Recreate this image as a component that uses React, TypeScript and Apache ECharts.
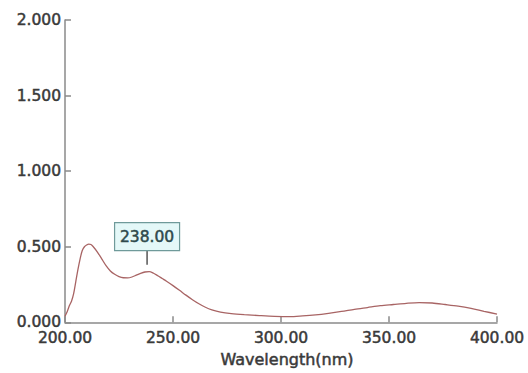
import React, { useEffect, useRef } from "react";
import * as echarts from "echarts";

const wavelengths = [
  200, 201, 202, 203, 204, 205, 206, 207, 208, 209, 210, 211, 212, 213, 215, 217, 219, 221, 223, 225,
  227, 229, 231, 233, 235, 237, 239, 241, 243, 245, 247, 250, 253, 256, 259, 262, 265, 268, 272, 277,
  283, 290, 297, 304, 310, 316, 322, 328, 334, 340, 346, 352, 358, 364, 370, 376, 382, 388, 394, 400,
];
const absorbance = [
  0.04, 0.07, 0.11, 0.14, 0.19, 0.27, 0.35, 0.42, 0.475, 0.5, 0.512, 0.518, 0.515, 0.502, 0.465, 0.42, 0.375, 0.34, 0.318, 0.303,
  0.295, 0.294, 0.3, 0.312, 0.324, 0.333, 0.336, 0.325, 0.308, 0.29, 0.272, 0.243, 0.212, 0.18, 0.15, 0.123, 0.1, 0.083, 0.068, 0.058,
  0.051, 0.045, 0.04, 0.038, 0.043, 0.05, 0.06, 0.072, 0.086, 0.098, 0.11, 0.118, 0.126, 0.131, 0.128, 0.118, 0.107, 0.092, 0.073, 0.055,
];
const peakWavelengths = [238];
const peakValues = [0.335];
const peakLabels = ["238.00"];
const xTicks = { min: 200, max: 400, interval: 50 };
const yTicks = { min: 0, max: 2, interval: 0.5 };

const FONT = "DejaVu Sans";
const TEXT_COLOR = "#3a3a3a";
const heavy = { textBorderColor: TEXT_COLOR, textBorderWidth: 0.5 };

export default function App() {
  const ref = useRef<HTMLDivElement>(null);
  useEffect(() => {
    if (!ref.current) return;
    const chart = echarts.init(ref.current, null, { renderer: "svg" });
    chart.setOption({
      animation: false,
      backgroundColor: "#ffffff",
      grid: { left: 65, right: 31, top: 20, bottom: 46 },
      xAxis: {
        type: "value",
        min: xTicks.min,
        max: xTicks.max,
        interval: xTicks.interval,
        name: "Wavelength(nm)",
        nameLocation: "middle",
        nameGap: 28,
        nameTextStyle: { fontFamily: FONT, fontSize: 16, color: TEXT_COLOR, padding: [0, 0, 0, 12], ...heavy },
        axisLine: { show: true, lineStyle: { color: "#8a8a8a", width: 1.5 } },
        axisTick: { show: true, inside: true, length: 6, lineStyle: { color: "#8a8a8a", width: 1.5 } },
        axisLabel: {
          fontFamily: FONT,
          fontSize: 15.5,
          color: TEXT_COLOR,
          margin: 8,
          ...heavy,
          formatter: (v: number) => v.toFixed(2),
        },
        splitLine: { show: false },
      },
      yAxis: {
        type: "value",
        min: yTicks.min,
        max: yTicks.max,
        interval: yTicks.interval,
        axisLine: { show: true, lineStyle: { color: "#8a8a8a", width: 1.5 } },
        axisTick: { show: true, inside: true, length: 6, lineStyle: { color: "#8a8a8a", width: 1.5 } },
        axisLabel: {
          fontFamily: FONT,
          fontSize: 15.5,
          color: TEXT_COLOR,
          margin: 4,
          ...heavy,
          formatter: (v: number) => v.toFixed(3),
        },
        splitLine: { show: false },
      },
      series: [
        {
          type: "line",
          data: wavelengths.map((w, i) => [w, absorbance[i]]),
          showSymbol: false,
          smooth: 0.3,
          lineStyle: { color: "#a86464", width: 1.3 },
          z: 2,
        },
        {
          type: "custom",
          data: peakWavelengths.map((w, i) => [w, peakValues[i], i]),
          renderItem: (params: any, api: any) => {
            const p = api.coord([api.value(0), api.value(1)]);
            const idx = api.value(2);
            const w = 65;
            const h = 28;
            const boxBottom = p[1] - 21;
            return {
              type: "group",
              children: [
                {
                  type: "line",
                  shape: { x1: p[0], y1: boxBottom, x2: p[0], y2: p[1] - 7 },
                  style: { stroke: "#555555", lineWidth: 1.5 },
                },
                {
                  type: "rect",
                  shape: { x: p[0] - w / 2, y: boxBottom - h, width: w, height: h },
                  style: { fill: "#e4f8f8", stroke: "#6f9a9a", lineWidth: 1.2 },
                },
                {
                  type: "text",
                  x: p[0],
                  y: boxBottom - h / 2,
                  style: {
                    text: peakLabels[idx],
                    fontFamily: FONT,
                    fontSize: 15.5,
                    fill: "#2f4a4c",
                    stroke: "#2f4a4c",
                    lineWidth: 0.5,
                    align: "center",
                    verticalAlign: "middle",
                  },
                },
              ],
            };
          },
          z: 3,
        },
      ],
    });
    return () => chart.dispose();
  }, []);
  return (
    <div
      ref={ref}
      style={{ position: "fixed", left: 0, top: 0, width: 528, height: 373 }}
    />
  );
}
